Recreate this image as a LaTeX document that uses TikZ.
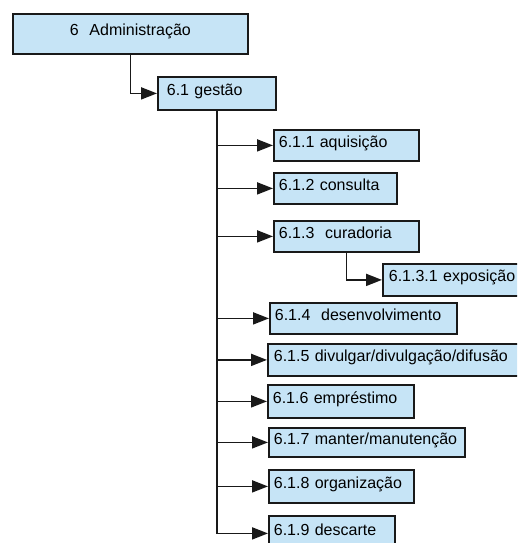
\documentclass[tikz,border=0pt]{standalone}
\usepackage{fontspec}
\setmainfont{Liberation Sans}
\usetikzlibrary{arrows.meta}
\definecolor{boxfill}{RGB}{198,228,246}
\definecolor{edge}{RGB}{25,25,25}
\tikzset{
  box/.style={draw=edge, fill=boxfill, line width=1.8pt, anchor=north west,
    inner xsep=0pt, inner ysep=0pt, text height=0.7em, text depth=0.3em,
    font=\fontsize{16}{19}\selectfont, align=left},
  link/.style={draw=edge, line width=1.8pt,
    -{Triangle[length=16pt,width=12pt]}},
}
% Place a box from its top-left corner (x,y) with width w, height h, left text inset p
\newcommand{\tbox}[7]{%
  \node[box, minimum width=#4pt, minimum height=#5pt, text width=#4pt-2*#6pt,
        inner xsep=#6pt] (#1) at (#2,#3) {#7};}
\begin{document}
\begin{tikzpicture}[x=1pt,y=-1pt]
  \useasboundingbox (0,0) rectangle (517,543);
  \clip (0,0) rectangle (517,543);
  % root
  \node[box, minimum width=235pt, minimum height=40pt, align=center, text width=225pt,
        inner xsep=5pt] (a6) at (12,13) {6~~Administração};
  \tbox{a61}{157}{76}{118}{33}{9}{6.1 gestão}
  % children of 6.1
  \tbox{b1}{273}{129}{145}{31}{5}{6.1.1 aquisição}
  \tbox{b2}{273}{172}{123}{31}{5}{6.1.2 consulta}
  \tbox{b3}{273}{220}{145}{31}{5}{6.1.3~~curadoria}
  \tbox{b31}{382}{263}{150}{32}{6}{6.1.3.1 exposição}
  \tbox{b4}{269}{302}{187}{31}{5}{6.1.4~~desenvolvimento}
  \tbox{b5}{267}{343}{262}{32}{6}{6.1.5 divulgar/divulgação/difusão}
  \tbox{b6}{267}{384}{146}{33}{5}{6.1.6 empréstimo}
  \tbox{b7}{268}{427}{196}{29}{5}{6.1.7 manter/manutenção}
  \tbox{b8}{268}{469}{145}{33}{5}{6.1.8 organização}
  \tbox{b9}{268}{515}{126}{35}{5}{6.1.9 descarte}
  % connectors
  \draw[link] (a6.south) |- (a61.west);
  \foreach \n in {b1,b2,b3,b4,b5,b6,b7,b8,b9}
    \draw[link] (a61.south) |- (\n.west);
  \draw[link] (b3.south) |- (b31.west);
\end{tikzpicture}
\end{document}
